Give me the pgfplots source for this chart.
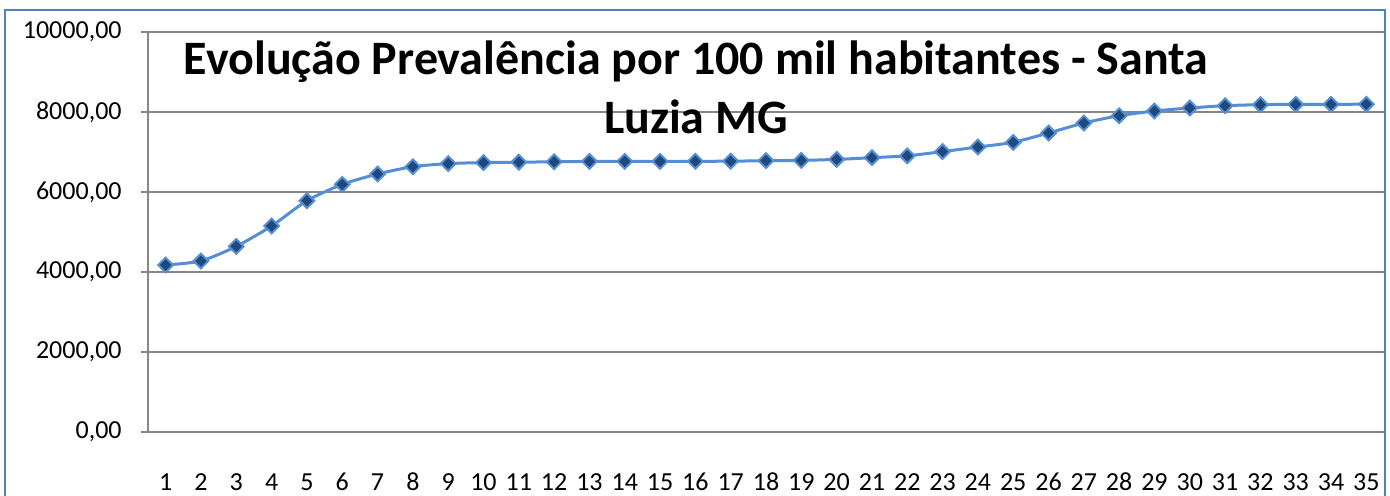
\documentclass[border=0pt]{standalone}
\usepackage{pgfplots}
\pgfplotsset{compat=1.18}
\usepackage{fontspec}
\setmainfont{Carlito}
\definecolor{lineblue}{HTML}{558ED5}
\definecolor{markfill}{HTML}{1F497D}
\definecolor{borderblue}{HTML}{4F81BD}
\definecolor{gridgray}{HTML}{868686}
\begin{document}
\begin{tikzpicture}
\clip (0pt,0pt) rectangle (695pt,-248pt);
\fill[white] (0pt,0pt) rectangle (695pt,-248pt);
\begin{axis}[
  at={(74pt,-216pt)}, anchor=south west,
  scale only axis, width=618pt, height=200pt,
  xmin=0.5, xmax=35.5, ymin=0, ymax=10000,
  scaled y ticks=false,
  /pgf/number format/assume math mode=true,
  axis lines*=left,
  axis line style={gridgray, line width=0.75pt},
  xtick={1,...,35},
  minor xtick={0.5,1.5,...,35.5},
  ytick={0,2000,4000,6000,8000,10000},
  yticklabels={{0,00},{2000,00},{4000,00},{6000,00},{8000,00},{10000,00}},
  ymajorgrids,
  grid style={gridgray, line width=0.75pt},
  tick align=outside,
  tick style={gridgray, line width=0.75pt},
  x tick style={draw=none},
  minor x tick style={gridgray, line width=0.75pt},
  major tick length=3.5pt,
  minor tick length=3.5pt,
  ticklabel style={font=\fontsize{13}{15}\selectfont, text=black},
  yticklabel style={anchor=east, inner sep=0pt, xshift=-9.5pt},
  xticklabel style={anchor=base, inner sep=0pt, yshift=-25.5pt},
  clip=false,
]
\addplot[color=lineblue, line width=1.5pt, smooth, tension=0.4,
  mark=square*, mark size=2.6pt,
  mark options={solid, rotate=45, fill=markfill, draw=lineblue, line width=1pt}]
coordinates {
(1,4175) (2,4275) (3,4640) (4,5150) (5,5783) (6,6190) (7,6450) (8,6633)
(9,6710) (10,6735) (11,6745) (12,6755) (13,6765) (14,6765) (15,6765)
(16,6768) (17,6770) (18,6783) (19,6790) (20,6815) (21,6858) (22,6905)
(23,7010) (24,7125) (25,7242) (26,7475) (27,7725) (28,7908) (29,8025)
(30,8100) (31,8158) (32,8183) (33,8192) (34,8192) (35,8195)
};
\end{axis}
\node[anchor=base, font=\fontsize{24}{28}\selectfont\bfseries, inner sep=0pt] at (348pt,-37.5pt) {Evolução Prevalência por 100 mil habitantes - Santa};
\node[anchor=base, font=\fontsize{24}{28}\selectfont\bfseries, inner sep=0pt] at (348pt,-67pt) {Luzia MG};
\draw[borderblue, line width=1pt] (2.5pt,-270pt) -- (2.5pt,-5pt) -- (692.5pt,-5pt) -- (692.5pt,-270pt);
\end{tikzpicture}
\end{document}
